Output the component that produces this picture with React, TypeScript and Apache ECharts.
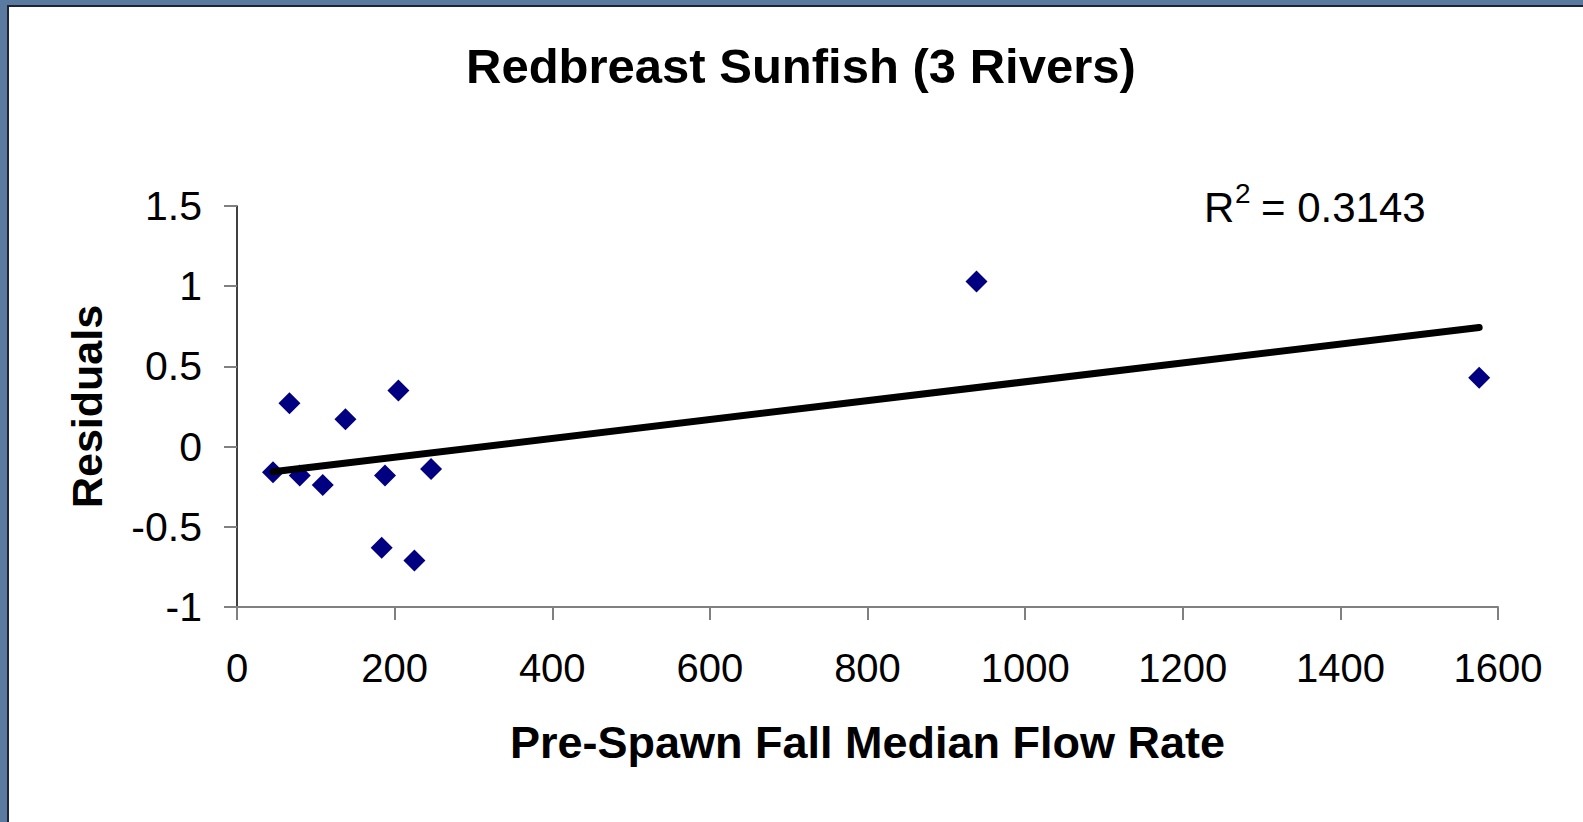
import React, { useEffect, useRef } from "react";
import * as echarts from "echarts";

// Pre-spawn fall median flow rate (x) and residuals (y)
const flowRate = [45.7, 66.5, 79.6, 108.8, 137.6, 187.8, 204.8, 246.2, 183.6, 225.1, 938.3, 1576.1];
const residuals = [-0.16, 0.27, -0.18, -0.24, 0.17, -0.18, 0.35, -0.14, -0.63, -0.71, 1.03, 0.43];

// Linear trendline end points (as drawn)
const trendX = [45.7, 1576.1];
const trendY = [-0.157, 0.743];

const xMin = 0;
const xMax = 1600;
const xInterval = 200;
const yMin = -1;
const yMax = 1.5;
const yInterval = 0.5;

const titleText = "Redbreast Sunfish (3 Rivers)";
const xName = "Pre-Spawn Fall Median Flow Rate";
const yName = "Residuals";
const rSquared = "0.3143";

const FONT = '"Liberation Sans", Arial, Helvetica, sans-serif';

export default function App() {
  const ref = useRef<HTMLDivElement>(null);

  useEffect(() => {
    if (!ref.current) return;
    const chart = echarts.init(ref.current, undefined, { renderer: "svg" });
    const points = flowRate.map((x, i) => [x, residuals[i]]);
    const trend = trendX.map((x, i) => [x, trendY[i]]);
    chart.setOption({
      animation: false,
      backgroundColor: "transparent",
      title: {
        text: titleText,
        left: 466,
        top: 41,
        padding: 0,
        textStyle: { fontFamily: FONT, fontSize: 49, fontWeight: "bold", color: "#000" },
      },
      grid: { left: 237, top: 206, width: 1261, height: 401, containLabel: false },
      xAxis: {
        type: "value",
        min: xMin,
        max: xMax,
        interval: xInterval,
        name: xName,
        nameLocation: "middle",
        nameGap: 113,
        nameTextStyle: { fontFamily: FONT, fontSize: 45, fontWeight: "bold", color: "#000" },
        axisLine: { show: true, onZero: false, lineStyle: { color: "#808080", width: 2 } },
        axisTick: { show: true, inside: false, length: 13, lineStyle: { color: "#808080", width: 2 } },
        axisLabel: {
          fontFamily: FONT,
          fontSize: 40,
          color: "#000",
          margin: 41,
          formatter: (v: number) => String(v),
        },
        splitLine: { show: false },
      },
      yAxis: {
        type: "value",
        min: yMin,
        max: yMax,
        interval: yInterval,
        name: yName,
        nameLocation: "middle",
        nameGap: 129,
        nameTextStyle: { fontFamily: FONT, fontSize: 43, fontWeight: "bold", color: "#000" },
        axisLine: { show: true, onZero: false, lineStyle: { color: "#000", width: 1.5 } },
        axisTick: { show: true, inside: false, length: 13, lineStyle: { color: "#808080", width: 2 } },
        axisLabel: {
          fontFamily: FONT,
          fontSize: 41,
          color: "#000",
          margin: 35,
          formatter: (v: number) => String(v),
        },
        splitLine: { show: false },
      },
      series: [
        {
          type: "scatter",
          data: points,
          symbol: "diamond",
          symbolSize: 22,
          itemStyle: { color: "#000080", opacity: 1 },
          z: 2,
        },
        {
          type: "line",
          data: trend,
          showSymbol: false,
          symbol: "none",
          lineStyle: { color: "#000", width: 7, cap: "round" },
          z: 3,
        },
      ],
      graphic: [
        {
          type: "text",
          x: 1204,
          y: 207.8,
          style: {
            text: "R",
            font: `42px ${FONT}`,
            fill: "#000",
            align: "left",
            verticalAlign: "middle",
            textAlign: "left",
            textVerticalAlign: "middle",
          },
        },
        {
          type: "text",
          x: 1235,
          y: 193.5,
          style: {
            text: "2",
            font: `28px ${FONT}`,
            fill: "#000",
            align: "left",
            verticalAlign: "middle",
            textAlign: "left",
            textVerticalAlign: "middle",
          },
        },
        {
          type: "text",
          x: 1261,
          y: 207.8,
          style: {
            text: "= " + rSquared,
            font: `42px ${FONT}`,
            fill: "#000",
            align: "left",
            verticalAlign: "middle",
            textAlign: "left",
            textVerticalAlign: "middle",
          },
        },
      ],
    });
    return () => chart.dispose();
  }, []);

  return (
    <div
      style={{
        position: "absolute",
        left: 0,
        top: 0,
        width: 1583,
        height: 822,
        background: "#5a7aa0",
        overflow: "hidden",
      }}
    >
      <div
        style={{
          position: "absolute",
          left: 7,
          top: 5,
          width: 1600,
          height: 900,
          background: "#ffffff",
          borderLeft: "2px solid #1b2535",
          borderTop: "2px solid #1b2535",
        }}
      />
      <div ref={ref} style={{ position: "absolute", left: 0, top: 0, width: 1583, height: 822 }} />
    </div>
  );
}
